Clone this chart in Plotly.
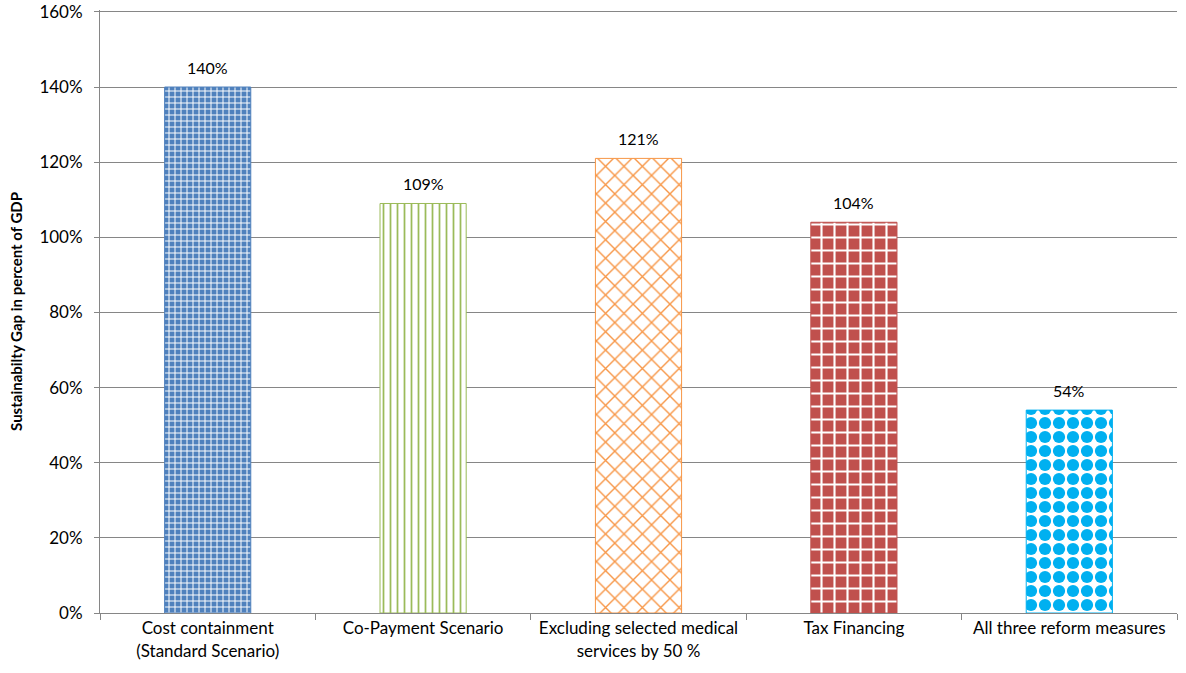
"""
Sustainability gap by reform scenario — patterned bar chart.
"""

import plotly.graph_objects as go

categories = [
    "Cost containment<br>(Standard Scenario)",
    "Co-Payment Scenario",
    "Excluding selected medical<br>services by 50 %",
    "Tax Financing",
    "All three reform measures",
]
gap_pct = [140, 109, 121, 104, 54]
tick_vals = [0, 20, 40, 60, 80, 100, 120, 140, 160]
tick_text = [f"{v}%" for v in tick_vals]

colors = ["#4F81BD", "#9BBB59", "#F79646", "#C0504D", "#00B0F0"]
# (shape, fgcolor, bgcolor, size, solidity) per bar
patterns = [
    ("+", "white", colors[0], 6, 0.3),
    ("|", colors[1], "white", 7, 0.25),
    ("x", colors[2], "white", 13, 0.2),
    ("+", "white", colors[3], 13, 0.3),
    (".", colors[4], "white", 14, 0.6),
]

fig = go.Figure()
for i, (cat, val) in enumerate(zip(categories, gap_pct)):
    shape, fg, bg, size, sol = patterns[i]
    fig.add_trace(go.Bar(
        x=[cat], y=[val], width=0.4,
        marker=dict(
            color=bg,
            line=dict(color=colors[i], width=1),
            pattern=dict(shape=shape, fgcolor=fg, bgcolor=bg,
                         size=size, solidity=sol, fillmode="replace"),
        ),
        showlegend=False,
    ))
    # value label a little above the bar top
    fig.add_annotation(
        x=cat, y=val, text=f"{val}%", showarrow=False,
        yanchor="bottom", yshift=8, font=dict(size=16, color="black"),
    )

fig.update_layout(
    width=1186, height=673,
    paper_bgcolor="white", plot_bgcolor="white",
    font=dict(family="Lato", size=17, color="black"),
    margin=dict(l=100, r=9, t=10, b=60, autoexpand=False),
    xaxis=dict(
        showline=True, linecolor="#868686", linewidth=1,
        ticks="outside", tickson="boundaries", ticklen=6, tickcolor="#868686",
        tickfont=dict(size=17),
    ),
    yaxis=dict(
        range=[0, 160.5], tickvals=tick_vals, ticktext=tick_text,
        showline=True, linecolor="#868686", linewidth=1,
        ticks="outside", ticklen=5, tickcolor="#868686",
        showgrid=True, gridcolor="#868686", gridwidth=1,
        zeroline=False, tickfont=dict(size=17), ticklabelstandoff=8,
        ticklabeloverflow="allow",
        title=dict(text="<b>Sustainabilty Gap in percent of GDP</b>",
                   font=dict(size=15), standoff=13),
    ),
)

# drop the page's default body margin so the figure fills the window
fig.write_html("out.html", config={"displayModeBar": False},
               post_script="document.body.style.margin='0';")
